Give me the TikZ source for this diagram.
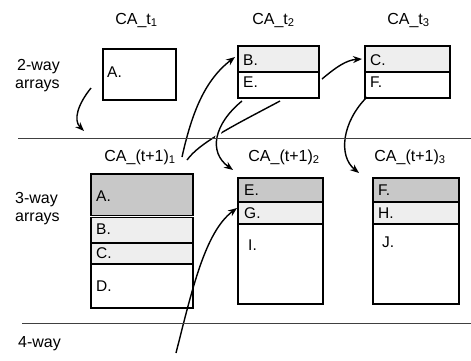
\documentclass[tikz,border=0pt]{standalone}
\usepackage{fontspec}
\setmainfont{Liberation Sans}
\usetikzlibrary{arrows.meta}
\definecolor{darkcell}{HTML}{C8C8C8}
\definecolor{lightcell}{HTML}{EEEEEE}
\definecolor{rulegray}{HTML}{404040}
\begin{document}
\begin{tikzpicture}[x=1pt,y=-1pt,
  lbl/.style={font=\fontsize{16}{18}\selectfont, inner sep=0pt, anchor=base},
  side/.style={font=\fontsize{16}{18}\selectfont, inner sep=0pt, anchor=base west},
  ctext/.style={font=\fontsize{15.5}{18}\selectfont, inner sep=0pt, anchor=base west},
  cell/.style={draw=black, line width=1.8pt, anchor=north west, inner sep=0pt},
  dk/.style={fill=darkcell},
  lt/.style={fill=lightcell},
  wh/.style={fill=white},
  rule/.style={draw=rulegray, line width=0.9pt},
  arr/.style={draw=black, line width=1.4pt, -{Stealth[length=9pt,width=7pt]}},
  conn/.style={draw=black, line width=1.4pt},
  halo/.style={preaction={draw=white, line width=5pt, -}}
]
\useasboundingbox (0,0) rectangle (471,360);
\fill[white] (0,0) rectangle (471,360);

% headers
\node[lbl] (h1) at (136.5,24) {CA\_t\textsubscript{1}};
\node[lbl] (h2) at (273.5,24) {CA\_t\textsubscript{2}};
\node[lbl] (h3) at (408.5,24) {CA\_t\textsubscript{3}};
\node[lbl] (g1) at (140,161) {CA\_(t+1)\textsubscript{1}};
\node[lbl] (g2) at (284,161) {CA\_(t+1)\textsubscript{2}};
\node[lbl] (g3) at (410,161) {CA\_(t+1)\textsubscript{3}};

% side labels
\node[side] (s2a) at (17,70) {2-way};
\node[side] (s2b) at (15,88) {arrays};
\node[side] (s3a) at (15,203) {3-way};
\node[side] (s3b) at (15,221) {arrays};
\node[side] (s4a) at (18,347) {4-way};

% 2-way arrays
\node[cell, wh, minimum width=73pt, minimum height=51pt] (t1A) at (102,48) {};
\node[ctext] (t1At) at (107,77) {A.};

\node[cell, lt, minimum width=81pt, minimum height=26pt] (t2B) at (237,45) {};
\node[cell, wh, minimum width=81pt, minimum height=26pt] (t2E) at (237,71) {};
\node[ctext] (t2Bt) at (243,65) {B.};
\node[ctext] (t2Et) at (243,87) {E.};

\node[cell, lt, minimum width=85pt, minimum height=26pt] (t3C) at (364,45) {};
\node[cell, wh, minimum width=85pt, minimum height=26pt] (t3F) at (364,71) {};
\node[ctext] (t3Ct) at (370,65) {C.};
\node[ctext] (t3Ft) at (370,87) {F.};

% 3-way arrays
\node[cell, dk, minimum width=102pt, minimum height=41.5pt] (u1A) at (90,173) {};
\node[cell, lt, minimum width=102pt, minimum height=25.5pt] (u1B) at (90,216.5) {};
\node[cell, lt, minimum width=102pt, minimum height=21pt] (u1C) at (90,242) {};
\node[cell, wh, minimum width=102pt, minimum height=44pt] (u1D) at (90,263) {};
\node[ctext] (u1At) at (96,201) {A.};
\node[ctext] (u1Bt) at (96,234) {B.};
\node[ctext] (u1Ct) at (96,258) {C.};
\node[ctext] (u1Dt) at (96,291) {D.};

\node[cell, dk, minimum width=85pt, minimum height=24pt] (u2E) at (237,177) {};
\node[cell, lt, minimum width=85pt, minimum height=22pt] (u2G) at (237,201) {};
\node[cell, wh, minimum width=85pt, minimum height=80pt] (u2I) at (237,223) {};
\node[ctext] (u2Et) at (244,195) {E.};
\node[ctext] (u2Gt) at (244,218) {G.};
\node[ctext] (u2It) at (248,250) {I.};

\node[cell, dk, minimum width=86pt, minimum height=24pt] (u3F) at (372,177) {};
\node[cell, lt, minimum width=86pt, minimum height=22pt] (u3H) at (372,201) {};
\node[cell, wh, minimum width=86pt, minimum height=80pt] (u3J) at (372,223) {};
\node[ctext] (u3Ft) at (378,195) {F.};
\node[ctext] (u3Ht) at (378,218) {H.};
\node[ctext] (u3Jt) at (382,247) {J.};

% connector end points
\coordinate (p1s) at (91,88);
\coordinate (p1e) at (84,131);
\coordinate (p2s) at (182,157);
\coordinate (p2e) at (235,57);
\coordinate (p3s) at (280,101);
\coordinate (p3e) at (187,160);
\coordinate (p4s) at (242,101);
\coordinate (p4e) at (233,170);
\coordinate (p5s) at (367,97);
\coordinate (p5e) at (359,173);
\coordinate (p6s) at (322,79);
\coordinate (p6e) at (362,59);
\coordinate (p7s) at (176,353);
\coordinate (p7e) at (237,208);

% connectors
\draw[arr] (p1s) .. controls (78,104) and (73,120) .. (p1e);
\draw[arr] (p2s) .. controls (192,112) and (205,80) .. (p2e);
\draw[conn] (p3s) .. controls (235,125) and (200,142) .. (p3e);
\draw[arr, halo] (p4s) .. controls (214,124) and (208,152) .. (p4e);
\draw[arr] (p5s) .. controls (342,122) and (338,156) .. (p5e);
\draw[arr] (p6s) .. controls (335,68) and (346,60) .. (p6e);
\draw[arr] (p7s) .. controls (192,290) and (205,232) .. (p7e);

% rules
\coordinate (r1a) at (18,138);
\coordinate (r1b) at (471,138);
\coordinate (r2a) at (22,323);
\coordinate (r2b) at (471,323);
\draw[rule] (r1a) -- (r1b);
\draw[rule] (r2a) -- (r2b);
\end{tikzpicture}
\end{document}
